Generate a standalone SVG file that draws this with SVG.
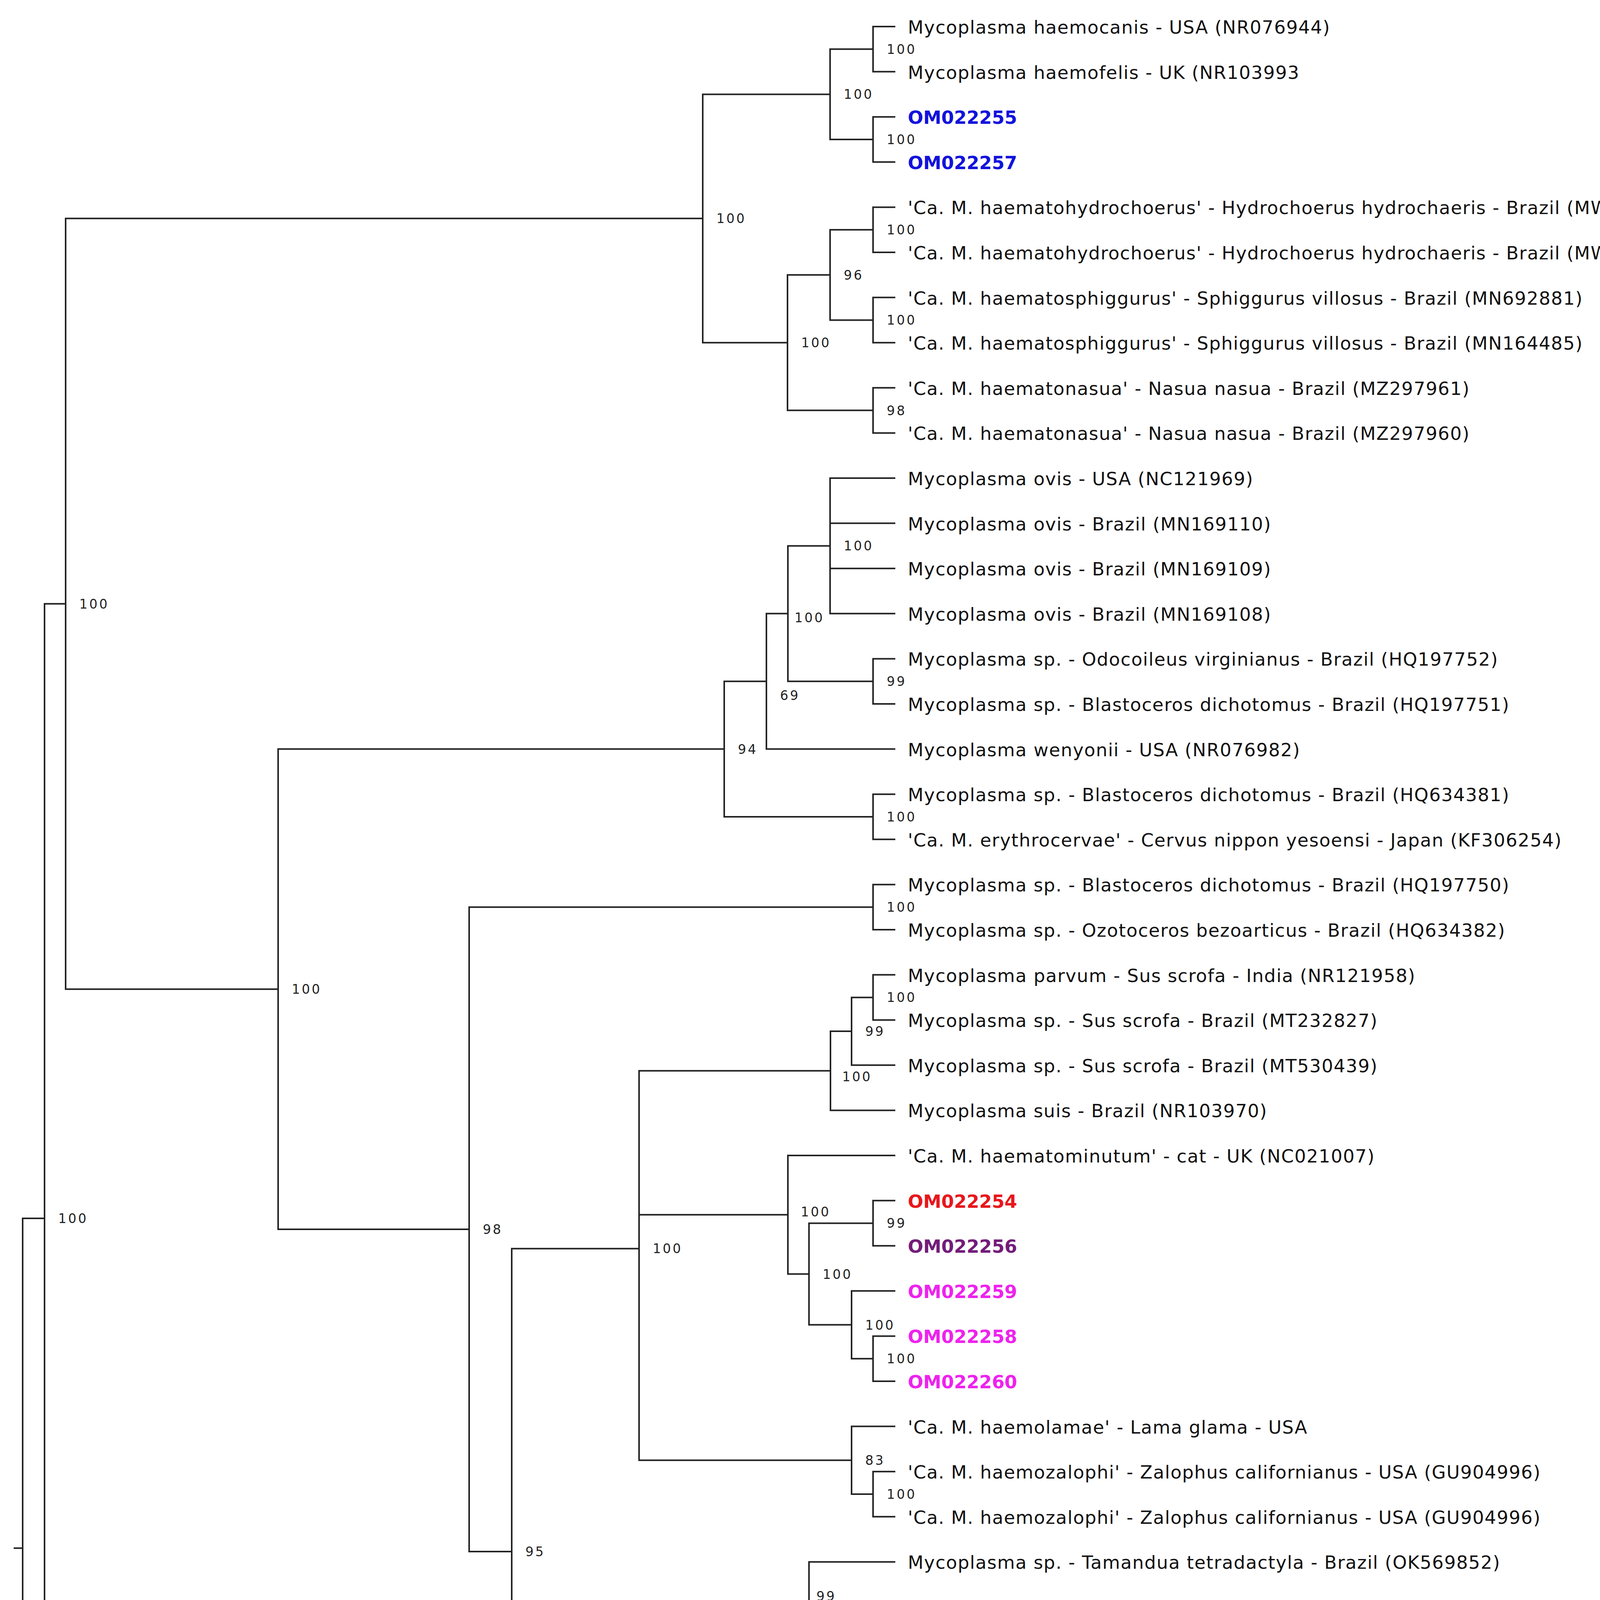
<svg xmlns="http://www.w3.org/2000/svg" width="4358" height="5011" viewBox="0 0 4358 5011">
<style>
.br{fill:none;stroke:#222;stroke-width:4;stroke-linecap:square;stroke-linejoin:miter}
.lf{font-family:"DejaVu Sans","Liberation Sans",sans-serif;font-size:46.5px;letter-spacing:1.5px;fill:#111}
.om{font-family:"DejaVu Sans","Liberation Sans",sans-serif;font-size:46.5px;font-weight:bold}
.bs{font-family:"DejaVu Sans","Liberation Sans",sans-serif;font-size:33px;letter-spacing:4.5px;fill:#222}
.blue{fill:#1212dc}.red{fill:#e8161b}.purple{fill:#731c7a}.mag{fill:#ee22ee}
</style>
<rect width="4358" height="5011" fill="#fff"/>
<g id="connectors">
<path class="br" d="M37,3963.3 H58 M114,3118.9 H58 V4807.6 H2290"/>
<path class="br" d="M168,1545.8 H114 V4692 H2290"/>
<path class="br" d="M1799,559.3 H168 V2532.3 H712"/>
<path class="br" d="M2125,241.4 H1799 V877.2 H2016"/>
<path class="br" d="M2235,125.8 H2125 V357 H2235"/>
<path class="br" d="M2290,68 H2235 V183.6 H2290"/>
<path class="br" d="M2290,299.2 H2235 V414.8 H2290"/>
<path class="br" d="M2125,703.8 H2016 V1050.6 H2235"/>
<path class="br" d="M2235,588.2 H2125 V819.4 H2235"/>
<path class="br" d="M2290,530.4 H2235 V646 H2290"/>
<path class="br" d="M2290,761.6 H2235 V877.2 H2290"/>
<path class="br" d="M2290,992.8 H2235 V1108.4 H2290"/>
<path class="br" d="M1854,1917.6 H712 V3147 H1201"/>
<path class="br" d="M1962,1744.2 H1854 V2091 H2235"/>
<path class="br" d="M2017,1570.8 H1962 V1917.6 H2290"/>
<path class="br" d="M2125,1397.4 H2017 V1744.2 H2235"/>
<path class="br" d="M2290,1224 H2125 V1570.8 H2290 M2125,1339.6 H2290 M2125,1455.2 H2290"/>
<path class="br" d="M2290,1686.4 H2235 V1802 H2290"/>
<path class="br" d="M2290,2033.2 H2235 V2148.8 H2290"/>
<path class="br" d="M2235,2322.2 H1201 V3971.9 H1310"/>
<path class="br" d="M2290,2264.4 H2235 V2380 H2290"/>
<path class="br" d="M1636,3196.4 H1310 V4576.4 H2290 M1310,4142.9 H2071"/>
<path class="br" d="M2126,2741.3 H1636 V3738.3 H2180 M1636,3109.7 H2017"/>
<path class="br" d="M2180,2640.1 H2126 V2842.4 H2290"/>
<path class="br" d="M2235,2553.4 H2180 V2726.8 H2290"/>
<path class="br" d="M2290,2495.6 H2235 V2611.2 H2290"/>
<path class="br" d="M2290,2958 H2017 V3261.5 H2071"/>
<path class="br" d="M2235,3131.4 H2071 V3391.5 H2180"/>
<path class="br" d="M2290,3073.6 H2235 V3189.2 H2290"/>
<path class="br" d="M2290,3304.8 H2180 V3478.2 H2235"/>
<path class="br" d="M2290,3420.4 H2235 V3536 H2290"/>
<path class="br" d="M2290,3651.6 H2180 V3825 H2235"/>
<path class="br" d="M2290,3767.2 H2235 V3882.8 H2290"/>
<path class="br" d="M2290,3998.4 H2071 V4287.4 H2126"/>
<path class="br" d="M2290,4114 H2126 V4460.8 H2290 M2126,4229.6 H2290 M2126,4345.2 H2290"/>
</g>
<g id="leaves">
<g id="leaf0"><text class="lf" x="2324" y="86">Mycoplasma haemocanis - USA (NR076944)</text></g>
<g id="leaf1"><text class="lf" x="2324" y="201.6">Mycoplasma haemofelis - UK (NR103993</text></g>
<g id="leaf2"><text class="om blue" x="2324" y="317.2">OM022255</text></g>
<g id="leaf3"><text class="om blue" x="2324" y="432.8">OM022257</text></g>
<g id="leaf4"><text class="lf" x="2324" y="548.4">'Ca. M. haematohydrochoerus' - Hydrochoerus hydrochaeris - Brazil (MW617219)</text></g>
<g id="leaf5"><text class="lf" x="2324" y="664">'Ca. M. haematohydrochoerus' - Hydrochoerus hydrochaeris - Brazil (MW617217)</text></g>
<g id="leaf6"><text class="lf" x="2324" y="779.6">'Ca. M. haematosphiggurus' - Sphiggurus villosus - Brazil (MN692881)</text></g>
<g id="leaf7"><text class="lf" x="2324" y="895.2">'Ca. M. haematosphiggurus' - Sphiggurus villosus - Brazil (MN164485)</text></g>
<g id="leaf8"><text class="lf" x="2324" y="1010.8">'Ca. M. haematonasua' - Nasua nasua - Brazil (MZ297961)</text></g>
<g id="leaf9"><text class="lf" x="2324" y="1126.4">'Ca. M. haematonasua' - Nasua nasua - Brazil (MZ297960)</text></g>
<g id="leaf10"><text class="lf" x="2324" y="1242">Mycoplasma ovis - USA (NC121969)</text></g>
<g id="leaf11"><text class="lf" x="2324" y="1357.6">Mycoplasma ovis - Brazil (MN169110)</text></g>
<g id="leaf12"><text class="lf" x="2324" y="1473.2">Mycoplasma ovis - Brazil (MN169109)</text></g>
<g id="leaf13"><text class="lf" x="2324" y="1588.8">Mycoplasma ovis - Brazil (MN169108)</text></g>
<g id="leaf14"><text class="lf" x="2324" y="1704.4">Mycoplasma sp. - Odocoileus virginianus - Brazil (HQ197752)</text></g>
<g id="leaf15"><text class="lf" x="2324" y="1820">Mycoplasma sp. - Blastoceros dichotomus - Brazil (HQ197751)</text></g>
<g id="leaf16"><text class="lf" x="2324" y="1935.6">Mycoplasma wenyonii - USA (NR076982)</text></g>
<g id="leaf17"><text class="lf" x="2324" y="2051.2">Mycoplasma sp. - Blastoceros dichotomus - Brazil (HQ634381)</text></g>
<g id="leaf18"><text class="lf" x="2324" y="2166.8">'Ca. M. erythrocervae' - Cervus nippon yesoensi - Japan (KF306254)</text></g>
<g id="leaf19"><text class="lf" x="2324" y="2282.4">Mycoplasma sp. - Blastoceros dichotomus - Brazil (HQ197750)</text></g>
<g id="leaf20"><text class="lf" x="2324" y="2398">Mycoplasma sp. - Ozotoceros bezoarticus - Brazil (HQ634382)</text></g>
<g id="leaf21"><text class="lf" x="2324" y="2513.6">Mycoplasma parvum - Sus scrofa - India (NR121958)</text></g>
<g id="leaf22"><text class="lf" x="2324" y="2629.2">Mycoplasma sp. - Sus scrofa - Brazil (MT232827)</text></g>
<g id="leaf23"><text class="lf" x="2324" y="2744.8">Mycoplasma sp. - Sus scrofa - Brazil (MT530439)</text></g>
<g id="leaf24"><text class="lf" x="2324" y="2860.4">Mycoplasma suis - Brazil (NR103970)</text></g>
<g id="leaf25"><text class="lf" x="2324" y="2976">'Ca. M. haematominutum' - cat - UK (NC021007)</text></g>
<g id="leaf26"><text class="om red" x="2324" y="3091.6">OM022254</text></g>
<g id="leaf27"><text class="om purple" x="2324" y="3207.2">OM022256</text></g>
<g id="leaf28"><text class="om mag" x="2324" y="3322.8">OM022259</text></g>
<g id="leaf29"><text class="om mag" x="2324" y="3438.4">OM022258</text></g>
<g id="leaf30"><text class="om mag" x="2324" y="3554">OM022260</text></g>
<g id="leaf31"><text class="lf" x="2324" y="3669.6">'Ca. M. haemolamae' - Lama glama - USA</text></g>
<g id="leaf32"><text class="lf" x="2324" y="3785.2">'Ca. M. haemozalophi' - Zalophus californianus - USA (GU904996)</text></g>
<g id="leaf33"><text class="lf" x="2324" y="3900.8">'Ca. M. haemozalophi' - Zalophus californianus - USA (GU904996)</text></g>
<g id="leaf34"><text class="lf" x="2324" y="4016.4">Mycoplasma sp. - Tamandua tetradactyla - Brazil (OK569852)</text></g>
<g id="leaf35"><text class="lf" x="2324" y="4132">Mycoplasma sp. - Priodontes maximus - Brazil (OK569853)</text></g>
<g id="leaf36"><text class="lf" x="2324" y="4247.6">Mycoplasma sp. - Priodontes maximus - Brazil (OK569854)</text></g>
<g id="leaf37"><text class="lf" x="2324" y="4363.2">Mycoplasma sp. - Priodontes maximus - Brazil (OK569855)</text></g>
<g id="leaf38"><text class="lf" x="2324" y="4478.8">Mycoplasma sp. - Priodontes maximus - Brazil (OK569856)</text></g>
<g id="leaf39"><text class="lf" x="2324" y="4594.4">'Ca. M. haemodidelphis' - Didelphis albiventris - Brazil (MN442085)</text></g>
<g id="leaf40"><text class="lf" x="2324" y="4710">Mycoplasma pneumoniae (NR077056)</text></g>
<g id="leaf41"><text class="lf" x="2324" y="4825.6">Bacillus subtillis (NR103037)</text></g>
</g>
<g id="support">
<g id="n1"><text class="bs" x="149" y="3130.9">100</text></g>
<g id="n2"><text class="bs" x="203" y="1557.8">100</text></g>
<g id="n3"><text class="bs" x="1834" y="571.3">100</text></g>
<g id="n5"><text class="bs" x="2160" y="253.4">100</text></g>
<g id="n7"><text class="bs" x="2270" y="137.8">100</text></g>
<g id="n8"><text class="bs" x="2270" y="369">100</text></g>
<g id="n6"><text class="bs" x="2051" y="889.2">100</text></g>
<g id="n9"><text class="bs" x="2160" y="715.8">96</text></g>
<g id="n11"><text class="bs" x="2270" y="600.2">100</text></g>
<g id="n12"><text class="bs" x="2270" y="831.4">100</text></g>
<g id="n10"><text class="bs" x="2270" y="1062.6">98</text></g>
<g id="n4"><text class="bs" x="747" y="2544.3">100</text></g>
<g id="n13"><text class="bs" x="1889" y="1929.6">94</text></g>
<g id="n15"><text class="bs" x="1997" y="1792">69</text></g>
<g id="n17"><text class="bs" x="2034" y="1593">100</text></g>
<g id="n18"><text class="bs" x="2160" y="1409.4">100</text></g>
<g id="n19"><text class="bs" x="2270" y="1756.2">99</text></g>
<g id="n16"><text class="bs" x="2270" y="2103">100</text></g>
<g id="n14"><text class="bs" x="1236" y="3159">98</text></g>
<g id="n20"><text class="bs" x="2270" y="2334.2">100</text></g>
<g id="n21"><text class="bs" x="1345" y="3983.9">95</text></g>
<g id="n22"><text class="bs" x="1671" y="3208.4">100</text></g>
<g id="n24"><text class="bs" x="2156" y="2767.5">100</text></g>
<g id="n27"><text class="bs" x="2215" y="2652.1">99</text></g>
<g id="n28"><text class="bs" x="2270" y="2565.4">100</text></g>
<g id="n25"><text class="bs" x="2050" y="3113.5">100</text></g>
<g id="n29"><text class="bs" x="2106" y="3273.5">100</text></g>
<g id="n30"><text class="bs" x="2270" y="3143.4">99</text></g>
<g id="n31"><text class="bs" x="2215" y="3403.5">100</text></g>
<g id="n32"><text class="bs" x="2270" y="3490.2">100</text></g>
<g id="n26"><text class="bs" x="2215" y="3750.3">83</text></g>
<g id="n33"><text class="bs" x="2270" y="3837">100</text></g>
<g id="n23"><text class="bs" x="2090" y="4098">99</text></g>
<g id="n34"><text class="bs" x="2161" y="4299.4">100</text></g>
</g>
<g id="scale">
<path class="br" d="M1026,4918 H1298"/>
<text class="bs" x="1162" y="4973" text-anchor="middle">5.0</text>
</g>
</svg>
